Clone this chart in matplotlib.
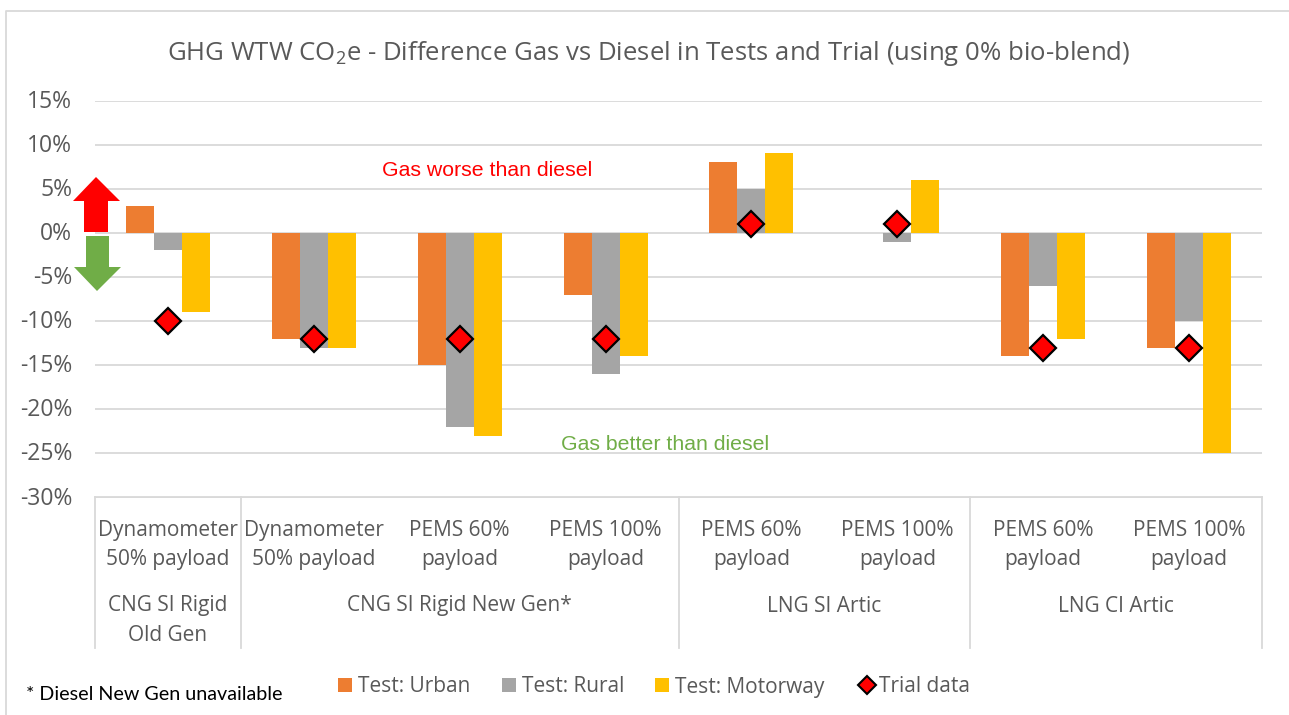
import matplotlib
matplotlib.use("Agg")
import matplotlib.pyplot as plt
from matplotlib.patches import Polygon, Rectangle
from matplotlib.transforms import ScaledTranslation
import numpy as np

# Dades llegides del gràfic
categories = ["Dynamometer\n50% payload", "Dynamometer\n50% payload", "PEMS 60%\npayload", "PEMS 100%\npayload",
              "PEMS 60%\npayload", "PEMS 100%\npayload", "PEMS 60%\npayload", "PEMS 100%\npayload"]
groups = ["CNG SI Rigid\nOld Gen", "CNG SI Rigid New Gen*", "LNG SI Artic", "LNG CI Artic"]
group_sizes = [1, 3, 2, 2]
urban = [3, -12, -15, -7, 8, 0, -14, -13]
rural = [-2, -13, -22, -16, 5, -1, -6, -10]
motorway = [-9, -13, -23, -14, 9, 6, -12, -25]
trial = [-10, -12, -12, -12, 1, 1, -13, -13]
yticks = [15, 10, 5, 0, -5, -10, -15, -20, -25, -30]

W, H = 1289, 715
GREY = "#595959"
LINE = "#d9d9d9"
plt.rcParams["font.family"] = ["Open Sans", "DejaVu Sans"]
plt.rcParams["mathtext.fontset"] = "custom"
plt.rcParams["mathtext.rm"] = "Open Sans"
plt.rcParams["mathtext.default"] = "rm"

fig = plt.figure(figsize=(W / 100, H / 100), dpi=100)

# Capa en píxels, per sobre dels eixos (fletxes i textos)
bg = fig.add_axes([0, 0, 1, 1])
bg.set_xlim(0, W)
bg.set_ylim(H, 0)
bg.axis("off")
bg.set_zorder(5)
bg.plot([6, 6, W], [H, 11, 11], color=LINE, lw=1.3)

left, right, top, bottom = 95, 1262, 100.5, 497.5
ax = fig.add_axes([left / W, 1 - bottom / H, (right - left) / W, (bottom - top) / H])
ax.set_xlim(-0.5, 7.5)
ax.set_ylim(-30, 15)
for s in ax.spines.values():
    s.set_visible(False)
ax.set_yticks(yticks)
ax.set_yticklabels([f"{v}%" for v in yticks], fontsize=16.5, color=GREY)
ax.set_xticks([])
ax.tick_params(axis="y", length=0, pad=16.5)
ax.grid(axis="y", color=LINE, lw=1.3)
ax.set_axisbelow(True)

# Pujar una mica les etiquetes de l'eix Y
shift = ScaledTranslation(0, 2 / 100, fig.dpi_scale_trans)
for lab in ax.get_yticklabels():
    lab.set_transform(lab.get_transform() + shift)

# Barres
x = np.arange(len(categories))
width = 0.192
ax.bar(x - width, urban, width, color="#ed7d31", label="Test: Urban", zorder=2)
ax.bar(x, rural, width, color="#a5a5a5", label="Test: Rural", zorder=2)
ax.bar(x + width, motorway, width, color="#ffc000", label="Test: Motorway", zorder=2)
ax.plot(x, trial, ls="none", marker="D", ms=13, mfc="#ff0000", mec="black", mew=1.6,
        label="Trial data", zorder=3, clip_on=False)

# Etiquetes de categories
cat_w = (right - left) / 8
for i, c in enumerate(categories):
    bg.text(left + (i + 0.5) * cat_w, 545, c, ha="center", va="center",
            fontsize=15, color=GREY, linespacing=1.55)

# Separadors i grups
start = 0
bounds = [0]
for size, g in zip(group_sizes, groups):
    end = start + size
    mid = left + (start + end) / 2 * cat_w
    bg.text(mid, 620.5 if "\n" in g else 606, g, ha="center", va="center", fontsize=15, color=GREY,
            linespacing=1.55)
    bounds.append(end)
    start = end
for b in bounds:
    bg.plot([left + b * cat_w] * 2, [497, 648], color=LINE, lw=1.3)
bg.plot([left, right], [497, 497], color=LINE, lw=1.3)

# Títol
bg.text(649, 53, r"GHG WTW CO$_2$e - Difference Gas vs Diesel in Tests and Trial (using 0% bio-blend)",
        ha="center", va="center", fontsize=18.5, color=GREY)

# Anotacions
bg.text(487.5, 170, "Gas worse than diesel", ha="center", va="center", fontsize=15.3, color="#ff0000",
        family="Liberation Sans")
bg.text(665.5, 444, "Gas better than diesel", ha="center", va="center", fontsize=15.3, color="#70ad47",
        family="Liberation Sans")
bg.text(26, 694, "* Diesel New Gen unavailable", ha="left", va="center", fontsize=14.2, color="black", family="Lato")

# Fletxes
bg.add_patch(Polygon([(96, 177), (120, 201), (108, 201), (108, 232), (84, 232), (84, 201), (73, 201)],
                     closed=True, color="#ff0000", lw=0))
bg.add_patch(Polygon([(97, 291), (121, 267), (109, 267), (109, 236), (86, 236), (86, 267), (74, 267)],
                     closed=True, color="#70ad47", lw=0))

# Llegenda
legend_items = [(338, "Test: Urban", "#ed7d31"), (502, "Test: Rural", "#a5a5a5"), (655, "Test: Motorway", "#ffc000")]
for xp, text, col in legend_items:
    bg.add_patch(Rectangle((xp, 678), 14, 14, color=col, lw=0))
    bg.text(xp + 20, 687, text, ha="left", va="center", fontsize=15, color=GREY)
bg.plot([867], [685], marker="D", ms=9, mfc="#ff0000", mec="black", mew=1.5)
bg.text(879, 687, "Trial data", ha="left", va="center", fontsize=15, color=GREY)

fig.savefig("out.png", dpi=100, facecolor="white")
